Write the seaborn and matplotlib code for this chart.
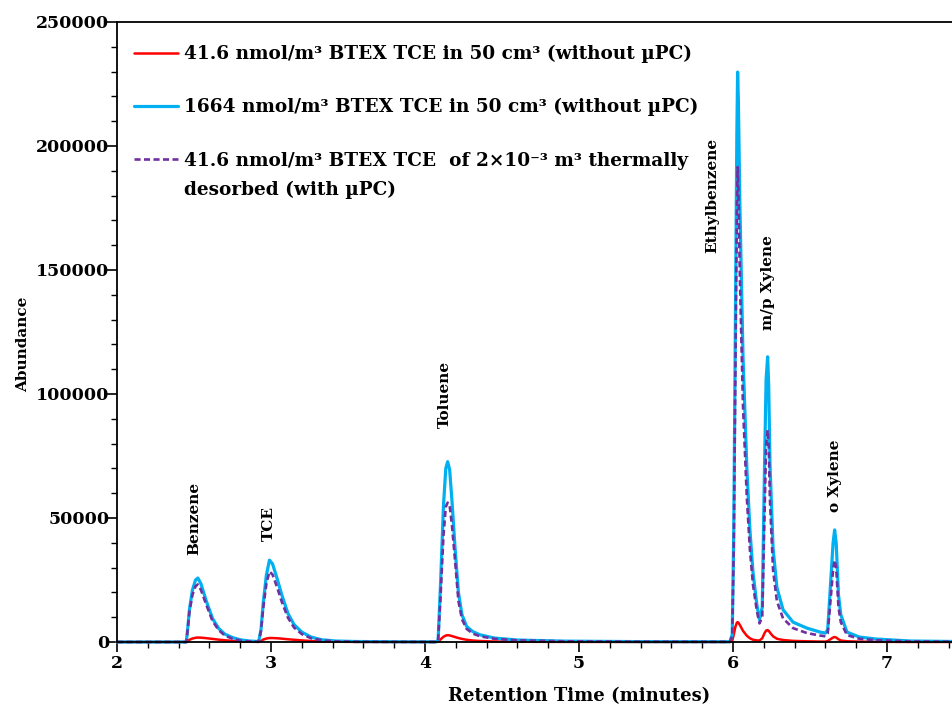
import matplotlib.pyplot as plt
import pandas as pd
import seaborn as sns
import numpy as np
from matplotlib.ticker import MultipleLocator, FixedLocator
from matplotlib.legend_handler import HandlerLine2D

# retention time grid (minutes)
time = [2.00, 2.45, 2.46, 2.47, 2.49, 2.51, 2.525, 2.545, 2.58, 2.62, 2.66, 2.70, 2.75, 2.80, 2.86, 2.92,
        2.935, 2.95, 2.97, 2.99, 3.01, 3.04, 3.07, 3.11, 3.15, 3.20, 3.26, 3.33, 3.42, 3.55, 3.80, 4.07,
        4.085, 4.10, 4.12, 4.135, 4.147, 4.16, 4.175, 4.195, 4.217, 4.24, 4.27, 4.31, 4.357, 4.45, 4.60, 4.90, 5.40, 5.98,
        5.995, 6.005, 6.015, 6.025, 6.03, 6.035, 6.045, 6.065, 6.09, 6.11, 6.13, 6.155, 6.172,
        6.19, 6.205, 6.215, 6.225, 6.232, 6.24, 6.26, 6.285, 6.325, 6.39, 6.48, 6.565, 6.60,
        6.615, 6.635, 6.65, 6.66, 6.67, 6.685, 6.70, 6.74, 6.82, 6.93, 7.15, 7.44]

low_no_pc = [0, 0, 400, 900, 1400, 1700, 1800, 1750, 1550, 1250, 950, 700, 450, 250, 100, 50,
             400, 1000, 1400, 1600, 1600, 1500, 1350, 1100, 900, 650, 400, 200, 100, 50, 30, 20,
             100, 1000, 2100, 2600, 2750, 2650, 2400, 2000, 1600, 1250, 900, 600, 400, 200, 100, 50, 30, 20,
             500, 3000, 6000, 7800, 8000, 7800, 6800, 4500, 2500, 1500, 900, 650, 600,
             1500, 3600, 4600, 4800, 4500, 3800, 2300, 1300, 800, 450, 280, 180, 150,
             400, 1200, 1800, 2000, 1800, 1100, 600, 300, 150, 80, 30, 20]

high_no_pc = [0, 0, 6000, 13000, 21000, 25000, 25800, 23500, 16500, 9500, 5500, 3200, 1800, 900, 400, 200,
              5000, 16000, 27000, 33000, 31500, 25500, 19000, 11500, 7000, 4000, 2000, 900, 400, 200, 100, 50,
              600, 22000, 55000, 70000, 72700, 69500, 57000, 38000, 20000, 11000, 6300, 4200, 2900, 1600, 800, 350, 150, 100,
              3000, 45000, 125000, 205000, 229800, 218000, 175000, 115000, 70000, 45000, 28000, 15000, 9000,
              14000, 72000, 106000, 115000, 103000, 72000, 38000, 22000, 13000, 8000, 5600, 4000, 3600,
              5000, 25000, 40000, 45200, 40000, 19000, 11000, 4000, 2000, 1200, 400, 200]

low_with_pc = [0, 0, 5500, 12000, 19000, 22500, 23200, 21000, 15000, 8500, 4800, 2600, 1300, 600, 250, 100,
               4500, 14000, 23500, 28400, 27200, 22000, 16200, 9800, 5800, 3200, 1500, 650, 250, 100, 50, 30,
               500, 17000, 43000, 54500, 56200, 55000, 47000, 33000, 16500, 9200, 5300, 3400, 2300, 1300, 650, 280, 120, 60,
               2500, 38000, 105000, 172000, 191500, 182000, 146000, 95000, 58000, 37000, 23000, 12500, 7500,
               10000, 52000, 79000, 85500, 79000, 57000, 29000, 16500, 9500, 5600, 3600, 2600, 2300,
               3500, 18000, 29000, 33000, 30000, 14000, 8000, 2800, 1300, 700, 250, 100]

series_names = ["41.6 nmol/m³ BTEX TCE in 50 cm³ (without µPC)",
                "1664 nmol/m³ BTEX TCE in 50 cm³ (without µPC)",
                "41.6 nmol/m³ BTEX TCE  of 2×10⁻³ m³ thermally\ndesorbed (with µPC)"]
series_colors = ["#FF0000", "#00B0F0", "#7030A0"]

compounds = ["Benzene", "TCE", "Toluene", "Ethylbenzene", "m/p Xylene", "o Xylene"]
compound_label_pos = [(2.50, 35000), (2.985, 40700), (4.13, 86300), (5.865, 156800), (6.23, 125800), (6.665, 52400)]

x_major = [2, 3, 4, 5, 6, 7]


class FirstLineHandler(HandlerLine2D):
    # put the legend line next to the first line of a two-line label
    def __init__(self, shift, **kw):
        super().__init__(**kw)
        self.shift = shift

    def create_artists(self, legend, orig_handle, xdescent, ydescent, width, height, fontsize, trans):
        artists = super().create_artists(legend, orig_handle, xdescent, ydescent, width, height, fontsize, trans)
        for a in artists:
            a.set_ydata(np.asarray(a.get_ydata()) + self.shift)
        return artists

#%%
sns.set_style("ticks")
plt.rcParams['font.family'] = ['DejaVu Serif', 'DejaVu Sans']
plt.rcParams['font.weight'] = 'bold'
plt.rcParams['axes.labelweight'] = 'bold'
for key in ['text.color', 'axes.labelcolor', 'xtick.color', 'ytick.color']:
    plt.rcParams[key] = 'black'

df = pd.DataFrame({"time": time,
                   series_names[0]: low_no_pc,
                   series_names[1]: high_no_pc,
                   series_names[2]: low_with_pc})
df_long = df.melt(id_vars="time", var_name="series", value_name="abundance")

fig, ax = plt.subplots(figsize=(9.53, 7.13), dpi=100)
# the axis runs on past the right edge of the picture (to 8 minutes)
ax.set_position([117 / 953, 71 / 713, 924 / 953, 620 / 713])

sns.lineplot(data=df_long, x="time", y="abundance", hue="series", style="series",
             hue_order=series_names, style_order=series_names,
             palette=series_colors, dashes=["", "", (2.3, 1.3)], linewidth=2, ax=ax)

widths = [1.8, 2.3, 1.9]
for line, w in zip(ax.lines[:3], widths):
    line.set_linewidth(w)
    line.set_clip_on(False)

handles, labels = ax.get_legend_handles_labels()
for h, w in zip(handles, widths):
    h.set_linewidth(w)
leg = ax.legend(handles, labels, loc="upper left", bbox_to_anchor=(0.0, 0.99), frameon=False,
                fontsize=13.3, handlelength=2.4, handletextpad=0.3, labelspacing=1.9,
                handler_map={handles[2]: FirstLineHandler(shift=12.0)})
for t in leg.get_texts():
    t.set_linespacing(1.78)
    t.set_color("black")

for name, (x, y) in zip(compounds, compound_label_pos):
    ax.text(x, y, name, rotation=90, ha="center", va="bottom", fontsize=11, fontweight="bold", color="black")

ax.set_xlim(2, 8)
ax.set_ylim(0, 250000)
ax.xaxis.set_major_locator(FixedLocator(x_major))
ax.xaxis.set_minor_locator(MultipleLocator(0.2))
ax.yaxis.set_major_locator(MultipleLocator(50000))
ax.yaxis.set_minor_locator(MultipleLocator(10000))
ax.tick_params(which="major", direction="out", length=7, width=1.2, labelsize=12.5,
               color="black", labelcolor="black")
ax.tick_params(which="minor", direction="out", length=4, width=1.0, color="black")
ax.tick_params(axis="x", pad=2.5)
ax.tick_params(axis="y", pad=-1.5)
ax.spines["right"].set_visible(False)
for s in ["left", "bottom", "top"]:
    ax.spines[s].set_linewidth(1.3)
    ax.spines[s].set_color("black")

ax.set_xlabel("Retention Time (minutes)", fontsize=13, fontweight="bold", color="black")
ax.set_ylabel("Abundance", fontsize=11, fontweight="bold", color="black")
ax.xaxis.set_label_coords(0.5, -0.072)
ax.yaxis.set_label_coords(-0.0942, 0.48)

fig.savefig("out.png", dpi=100)
